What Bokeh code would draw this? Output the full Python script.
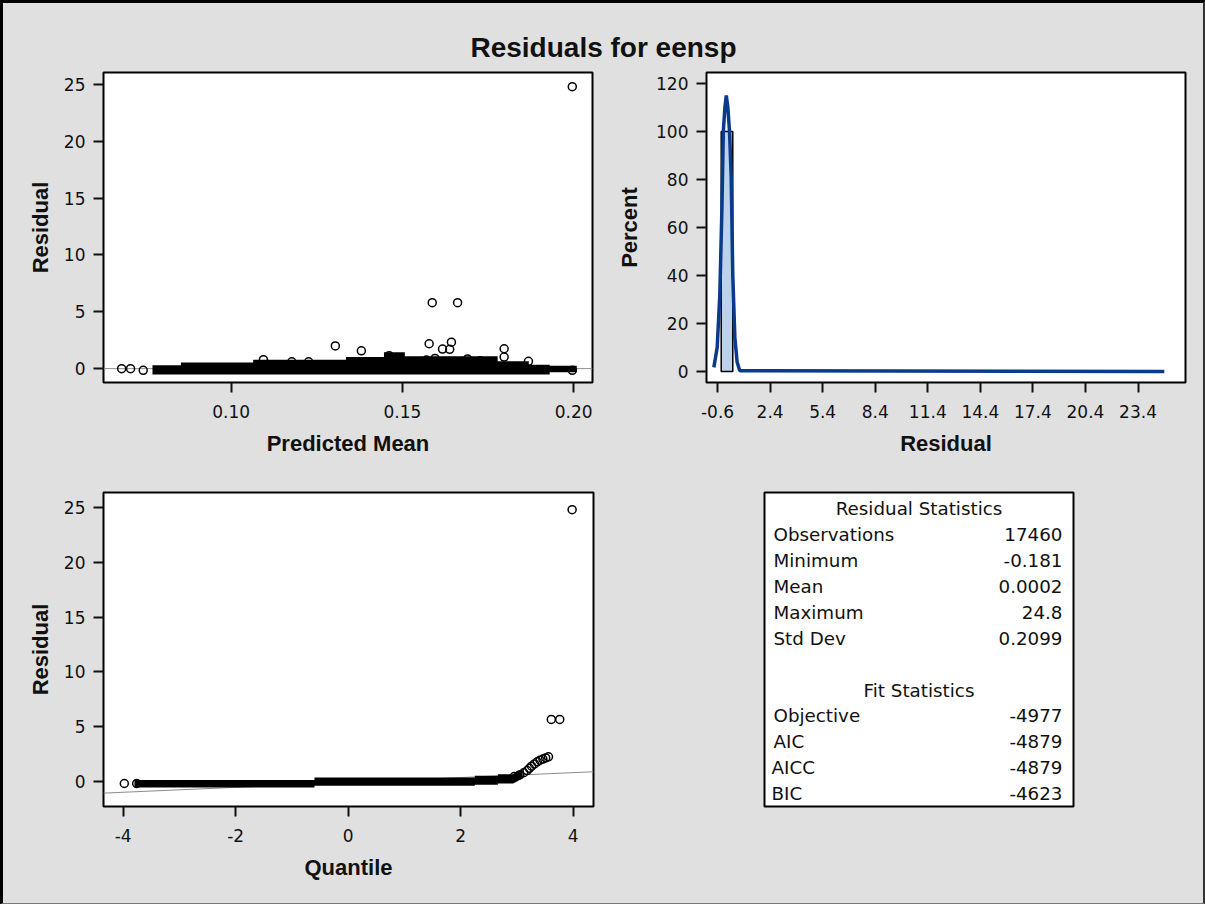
from bokeh.plotting import figure
from bokeh.layouts import column, row
from bokeh.models import (Range1d, FixedTicker, NumeralTickFormatter, Span, Label)
from bokeh.embed import file_html
from bokeh.resources import INLINE
from bokeh.core.properties import value

# ---------------- data ----------------
# Residual vs predicted mean: isolated circles
pm_x = [0.068, 0.0706, 0.0743, 0.1094, 0.1177, 0.1226, 0.1304, 0.1380, 0.1391, 0.1461,
        0.1487, 0.1570, 0.1578, 0.1587, 0.1595, 0.1617, 0.1638, 0.1643, 0.1661, 0.1690,
        0.1727, 0.1797, 0.1797, 0.1868, 0.1996, 0.1996]
pm_y = [0.0, 0.0, -0.15, 0.79, 0.6, 0.6, 2.0, 1.57, 0.6, 1.14,
        0.8, 0.75, 2.19, 5.8, 0.9, 1.72, 1.7, 2.33, 5.8, 0.85,
        0.7, 1.75, 1.02, 0.64, 24.8, -0.15]
# dense overlapping cloud (outer edges as read)
band_x = [0.0770, 0.0853, 0.0853, 0.1064, 0.1064, 0.1335, 0.1335, 0.1446, 0.1446, 0.1507,
          0.1507, 0.1778, 0.1778, 0.1869, 0.1869, 0.1930, 0.1930, 0.2009]
band_top = [0.30, 0.30, 0.55, 0.55, 0.79, 0.79, 1.02, 1.02, 1.45, 1.45,
            1.08, 1.08, 0.64, 0.64, 0.35, 0.35, 0.26, 0.26]
band_bot = [-0.52, -0.52, -0.52, -0.52, -0.52, -0.52, -0.52, -0.52, -0.52, -0.52,
            -0.52, -0.52, -0.52, -0.52, -0.52, -0.52, -0.32, -0.32]

# Histogram of residuals (percent) and density curve
hist_left = [-0.39]
hist_right = [0.27]
hist_pct = [100.0]
dens_x = [-0.81, -0.62, -0.47, -0.35, -0.27, -0.18, -0.10, -0.01, 0.085, 0.18,
          0.27, 0.39, 0.52, 0.67, 24.9]
dens_y = [1.7, 10, 32, 68, 100, 110, 115, 110, 100, 81,
          40, 14, 3.8, 0.3, 0.0]
hist_ticks = [-0.6, 2.4, 5.4, 8.4, 11.4, 14.4, 17.4, 20.4, 23.4]

# Q-Q plot
qq_x = [-3.98, -3.76, 2.95, 3.05, 3.12, 3.18, 3.22, 3.26, 3.31, 3.36,
        3.41, 3.46, 3.51, 3.56, 3.61, 3.76, 3.98]
qq_y = [-0.18, -0.18, 0.45, 0.6, 0.8, 1.0, 1.2, 1.4, 1.6, 1.8,
        1.95, 2.05, 2.15, 2.25, 5.66, 5.66, 24.8]
qq_band_x = [-3.80, -0.60, -0.60, 2.25, 2.25, 2.66, 2.66, 2.93, 3.00, 3.10]
qq_band_top = [0.13, 0.13, 0.37, 0.37, 0.52, 0.52, 0.67, 0.67, 0.95, 1.10]
qq_band_bot = [-0.55, -0.55, -0.39, -0.39, -0.30, -0.30, -0.18, -0.18, 0.00, 0.30]
qq_ref_x = [-4.35, 4.36]
qq_ref_y = [-1.06, 0.89]

# Statistics table
stat_title = "Residual Statistics"
stat_labels = ["Observations", "Minimum", "Mean", "Maximum", "Std Dev"]
stat_values = ["17460", "-0.181", "0.0002", "24.8", "0.2099"]
fit_title = "Fit Statistics"
fit_labels = ["Objective", "AIC", "AICC", "BIC"]
fit_values = ["-4977", "-4879", "-4879", "-4623"]

# ---------------- style ----------------
BG = "#e0e0e0"
TICK_FONT = "DejaVu Sans"
LABEL_FONT = "Liberation Sans"
DENS_COLOR = "#0a3a8c"
BAR_COLOR = "#bcd1ea"


def base_fig(w, h, xr, yr, ml, mr, mt, mb):
    p = figure(width=w, height=h, x_range=Range1d(*xr), y_range=Range1d(*yr),
               toolbar_location=None, output_backend="svg", title=None,
               min_border_left=ml, min_border_right=mr, min_border_top=mt,
               min_border_bottom=mb)
    p.background_fill_color = "white"
    p.border_fill_color = BG
    p.outline_line_color = "black"
    p.outline_line_width = 2
    p.grid.visible = False
    return p


def style_axes(p, xlabel, ylabel, xticks, yticks, y_label_standoff, xfmt, yfmt):
    for ax in (p.xaxis[0], p.yaxis[0]):
        ax.major_label_text_font = TICK_FONT
        ax.major_label_text_font_size = "17px"
        ax.major_label_text_color = "#111111"
        ax.axis_label_text_font = LABEL_FONT
        ax.axis_label_text_font_size = "22px"
        ax.axis_label_text_font_style = "bold"
        ax.axis_label_text_color = "#111111"
        ax.major_tick_out = 10
        ax.major_tick_in = 0
        ax.major_tick_line_width = 2
        ax.major_tick_line_color = "#111111"
        ax.minor_tick_line_color = None
        ax.axis_line_color = None
    p.xaxis.axis_label = xlabel
    p.yaxis.axis_label = ylabel
    p.xaxis.ticker = FixedTicker(ticks=xticks)
    p.yaxis.ticker = FixedTicker(ticks=yticks)
    p.xaxis.formatter = NumeralTickFormatter(format=xfmt)
    p.yaxis.formatter = NumeralTickFormatter(format=yfmt)
    p.xaxis.major_label_standoff = 12
    p.yaxis.major_label_standoff = 8
    p.xaxis.axis_label_standoff = 10
    p.yaxis.axis_label_standoff = y_label_standoff


# ---------------- title ----------------
pt = figure(width=1200, height=63, x_range=Range1d(0, 1200), y_range=Range1d(0, 63),
            toolbar_location=None, output_backend="svg", title=None, min_border=0,
            x_axis_location=None, y_axis_location=None)
pt.grid.visible = False
pt.outline_line_color = None
pt.background_fill_color = BG
pt.border_fill_color = BG
pt.add_layout(Label(x=600, y=19, text="Residuals for eensp", text_align="center",
                    text_baseline="middle", text_font="Liberation Sans",
                    text_font_size="28px", text_font_style="bold", text_color="#111111"))

# ---------------- residual vs predicted mean ----------------
p1 = base_fig(602, 404, (0.0627, 0.2055), (-1.22, 26.05), 100, 13, 5, 87)
style_axes(p1, "Predicted Mean", "Residual", [0.10, 0.15, 0.20], [0, 5, 10, 15, 20, 25],
           8, "0.00", "0")
p1.add_layout(Span(location=0, dimension="width", line_color="#8c8c8c", line_width=1,
                   level="underlay"))
p1.varea(x=band_x, y1=band_bot, y2=band_top, fill_color="black")
p1.scatter(x=pm_x, y=pm_y, marker="circle", size=8, fill_color=None,
           line_color="black", line_width=1.5)

# ---------------- histogram ----------------
p2 = base_fig(598, 404, (-1.23, 26.11), (-4.6, 124.6), 101, 18, 6, 88)
style_axes(p2, "Residual", "Percent", hist_ticks, [0, 20, 40, 60, 80, 100, 120],
           11, "0.0", "0")
p2.quad(left=hist_left, right=hist_right, bottom=[0] * len(hist_pct), top=hist_pct,
        fill_color=BAR_COLOR, line_color="black", line_width=1.5)
p2.line(x=dens_x, y=dens_y, line_color=DENS_COLOR, line_width=3.5)

# ---------------- Q-Q plot ----------------
p3 = base_fig(602, 433, (-4.35, 4.36), (-2.28, 26.37), 100, 12, 22, 97)
style_axes(p3, "Quantile", "Residual", [-4, -2, 0, 2, 4], [0, 5, 10, 15, 20, 25],
           8, "0", "0")
p3.line(x=qq_ref_x, y=qq_ref_y, line_color="#8c8c8c", line_width=1)
p3.varea(x=qq_band_x, y1=qq_band_bot, y2=qq_band_top, fill_color="black")
p3.scatter(x=qq_x, y=qq_y, marker="circle", size=8, fill_color=None,
           line_color="black", line_width=1.5)

# ---------------- statistics table ----------------
TW, TH = 309, 364
p4 = figure(width=598, height=433, x_range=Range1d(0, TW), y_range=Range1d(0, TH),
            toolbar_location=None, output_backend="svg", title=None,
            min_border_left=159, min_border_right=130, min_border_top=21, min_border_bottom=48,
            x_axis_location=None, y_axis_location=None)
p4.grid.visible = False
p4.background_fill_color = "white"
p4.border_fill_color = BG
p4.outline_line_color = "black"
p4.outline_line_width = 2

head_txt = [stat_title, fit_title]
head_y = [TH - 19, TH - 229]
lab_txt = stat_labels + fit_labels
val_txt = stat_values + fit_values
lab_y = [TH - (49 + 30 * i) for i in range(len(stat_labels))] + \
        [TH - (259 + 30 * i) for i in range(len(fit_labels))]
lab_x = [9] * len(stat_labels) + [9, 9, 7, 7]
val_x = [298] * len(val_txt)

common = dict(text_font=value("DejaVu Sans"), text_font_size="18.3px",
              text_color="#111111", text_baseline="middle")
p4.text(x=[TW / 2] * 2, y=head_y, text=head_txt, text_align="center", **common)
p4.text(x=lab_x, y=lab_y, text=lab_txt, text_align="left", **common)
p4.text(x=val_x, y=lab_y, text=val_txt, text_align="right", **common)

layout = column(pt, row(p1, p2, spacing=0), row(p3, p4, spacing=0), spacing=0,
                styles={"border-left": "3px solid black", "border-top": "3px solid black",
                        "border-right": "2px solid #333333",
                        "border-bottom": "1px solid #777777",
                        "background-color": BG})

open("out.html", "w").write(file_html(layout, INLINE))
